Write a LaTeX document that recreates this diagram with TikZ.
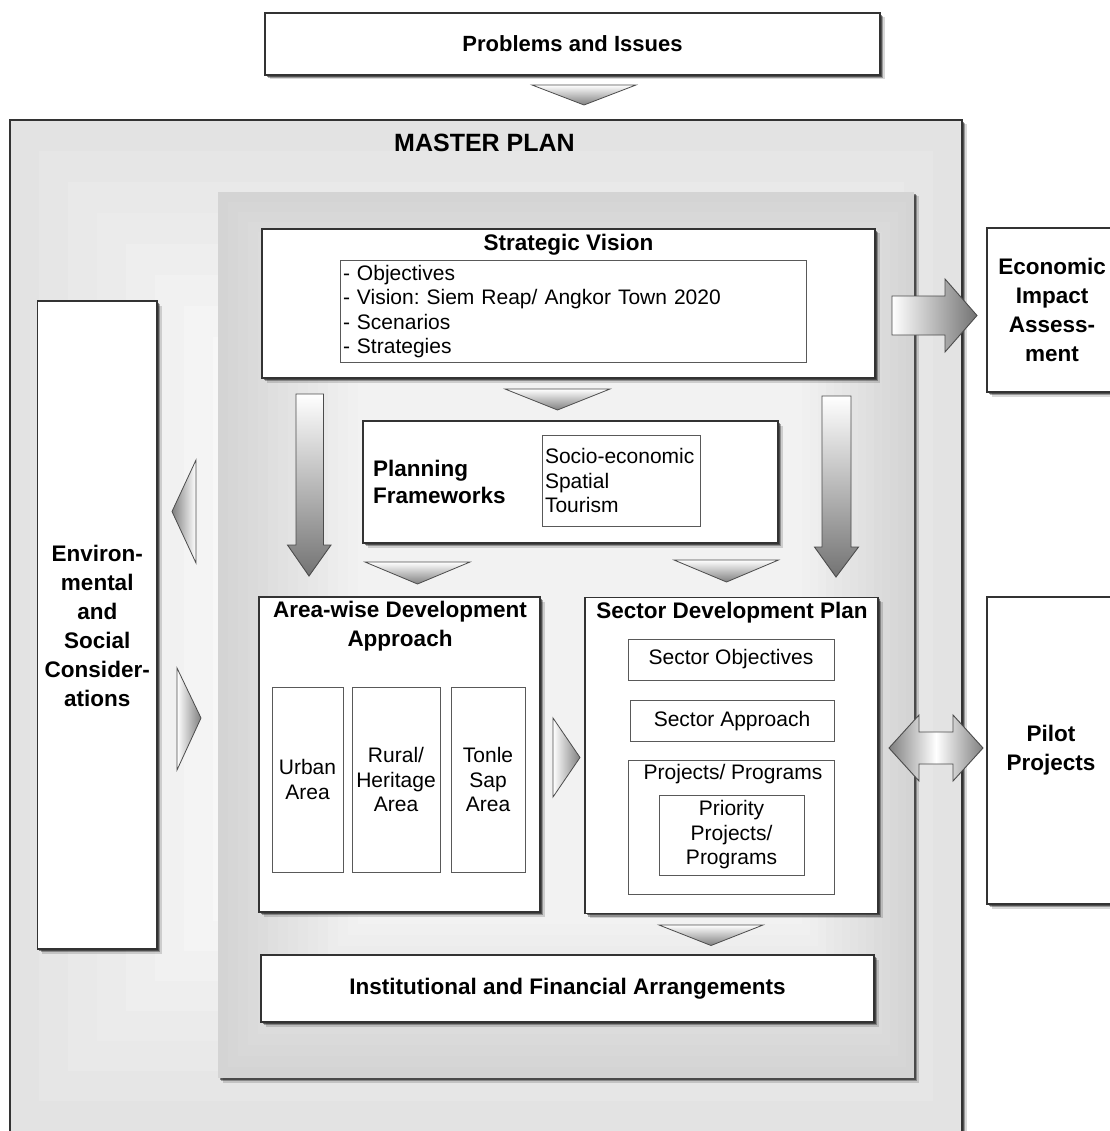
\documentclass[tikz,border=0pt]{standalone}
\usepackage{fontspec}
\setmainfont{Liberation Sans}
\frenchspacing
\usetikzlibrary{shadows}
\tikzset{
  shad/.style={
    drop shadow={shadow xshift=4.5pt, shadow yshift=-4.5pt, fill=black, opacity=0.15},
    drop shadow={shadow xshift=3pt, shadow yshift=-3pt, fill=black, opacity=0.3},
    drop shadow={shadow xshift=1.8pt, shadow yshift=-1.8pt, fill=black, opacity=0.45}},
  mainbox/.style={draw=black!80, line width=1.3pt, fill=white, shad, inner sep=0pt},
  subbox/.style={draw=black!65, line width=1pt, fill=white, inner sep=0pt},
  btxt/.style={font=\fontsize{22.5}{29}\selectfont\bfseries, align=center, inner sep=0pt},
  rtxt/.style={font=\fontsize{21}{24.5}\selectfont},
  tri/.style={draw=black!70, line width=0.8pt},
  blk/.style={draw=black!70, line width=0.9pt},
}
\begin{document}
\begin{tikzpicture}[x=1pt,y=-1pt]
\useasboundingbox (0,0) rectangle (1109,1131);
\fill[white] (0,0) rectangle (1109,1131);

% Problems and Issues
\node[mainbox, minimum width=615, minimum height=62, btxt, font=\fontsize{22}{28}\selectfont\bfseries] (prob) at (572.5,44) {Problems and Issues};

% Master plan frame
\node[mainbox, fill=black!11, minimum width=952, minimum height=1020] (master) at (486,630) {};
\foreach \i in {1,...,7} {
  \pgfmathsetmacro\c{11-\i*1.1}
  \fill[black!\c] (10+\i*29, 120+\i*31) rectangle (962-\i*29, 1131-\i*30);
}
\node[btxt, font=\fontsize{25}{30}\selectfont\bfseries] (mptitle) at (484.5,143) {MASTER PLAN};

% Environmental box
\node[mainbox, minimum width=119.5, minimum height=648] (env) at (97.25,625) {};
\node[btxt] (envtxt) at (97.25,625.5) {Environ-\\mental\\and\\Social\\Consider-\\ations};

% Economic impact and Pilot projects (outside)
\node[mainbox, minimum width=130, minimum height=164] (econ) at (1052,310) {};
\node[btxt] (econtxt) at (1052,310) {Economic\\Impact\\Assess-\\ment};
\node[mainbox, minimum width=130, minimum height=307] (pilot) at (1052,750.5) {};
\node[btxt] (pilottxt) at (1051,750.5) {Pilot\\Projects};

% Inner panel
\node[mainbox, draw=none, fill=black!17, minimum width=696, minimum height=886] (panel) at (566,635) {};
\foreach \i in {1,...,14} {
  \pgfmathsetmacro\c{17-\i*0.85}
  \fill[black!\c] (218+\i*10, 192+\i*10) rectangle (914-\i*8, 1078-\i*11);
}

% Strategic Vision
\node[mainbox, minimum width=613, minimum height=149] (sv) at (568.5,303.5) {};
\node[btxt] (svtitle) at (568.5,245) {Strategic Vision};
\node[subbox, rtxt, minimum height=101, text width=460, inner xsep=3pt, align=left] (svin) at (573,311.5)
  {- Objectives\\- Vision: Siem Reap/ Angkor Town 2020\\- Scenarios\\- Strategies};

% Planning Frameworks
\node[mainbox, minimum width=415, minimum height=122] (pf) at (570.5,482) {};
\node[btxt, anchor=west, align=left, font=\fontsize{22.5}{27.5}\selectfont\bfseries] (pftitle) at (373,482) {Planning\\Frameworks};
\node[subbox, rtxt, minimum height=91, text width=152, inner xsep=3pt, align=left] (pfin) at (621,480.5)
  {Socio-economic\\Spatial\\Tourism};

% Area-wise development approach
\node[mainbox, minimum width=281, minimum height=315] (area) at (399.5,754.5) {};
\node[btxt] (areatitle) at (400,626) {Area-wise Development\\Approach};
\node[subbox, rtxt, inner sep=0pt, align=center, minimum width=71, minimum height=185] (urban) at (307.5,779.5) {Urban\\Area};
\node[subbox, rtxt, inner sep=0pt, align=center, minimum width=88, minimum height=185] (rural) at (396,779.5) {Rural/\\Heritage\\Area};
\node[subbox, rtxt, inner sep=0pt, align=center, minimum width=74, minimum height=185] (tonle) at (488,779.5) {Tonle\\Sap\\Area};

% Sector development plan
\node[mainbox, minimum width=293, minimum height=316] (sector) at (731.5,755.5) {};
\node[btxt] (sectitle) at (732,613) {Sector Development Plan};
\node[subbox, rtxt, inner sep=0pt, minimum width=206, minimum height=41] (sobj) at (731,659.5) {Sector Objectives};
\node[subbox, rtxt, inner sep=0pt, minimum width=204, minimum height=41] (sapp) at (732,721) {Sector Approach};
\node[subbox, minimum width=206, minimum height=134] (proj) at (731,827) {};
\node[rtxt, inner sep=0pt] (projtxt) at (733,774) {Projects/ Programs};
\node[subbox, rtxt, inner sep=0pt, align=center, minimum width=145, minimum height=80] (prio) at (731.5,835) {Priority\\Projects/\\Programs};

% Institutional
\node[mainbox, btxt, minimum width=613, minimum height=67] (inst) at (567.5,988.5) {Institutional and Financial Arrangements};

% Triangles
\shade[tri, top color=white, bottom color=black!50] (532,85) -- (636,85) -- (584,105) -- cycle;
\shade[tri, top color=white, bottom color=black!50] (505,389) -- (610,389) -- (557.5,410) -- cycle;
\shade[tri, top color=white, bottom color=black!50] (365,562) -- (470,562) -- (417.5,584) -- cycle;
\shade[tri, top color=white, bottom color=black!50] (674,560) -- (778.5,560) -- (726.5,582) -- cycle;
\shade[tri, top color=white, bottom color=black!50] (659,925) -- (763,925) -- (711,945.5) -- cycle;
\shade[tri, left color=white, right color=black!50] (553,718) -- (580,757.5) -- (553,797) -- cycle;
\shade[tri, left color=black!50, right color=white] (196,460) -- (172,511.5) -- (196,563) -- cycle;
\shade[tri, left color=white, right color=black!50] (177,668) -- (201,718) -- (177,770) -- cycle;

% Big down arrows
\shade[blk, top color=white, bottom color=black!55]
  (296,394) -- (323.5,394) -- (323.5,545) -- (331,545) -- (309,576) -- (287.5,545) -- (296,545) -- cycle;
\shade[blk, top color=white, bottom color=black!55]
  (822,396) -- (851,396) -- (851,547) -- (858.5,547) -- (836,577) -- (814.5,547) -- (822,547) -- cycle;

% Arrow to economic impact
\shade[blk, left color=white, right color=black!55]
  (892,296) -- (945,296) -- (945,279) -- (977,315.5) -- (945,352) -- (945,335) -- (892,335) -- cycle;

% Double arrow to pilot projects
\shade[blk, left color=black!50, right color=black!50, middle color=white]
  (889,748) -- (919,715) -- (919,732) -- (953,732) -- (953,715) -- (983,748)
  -- (953,781) -- (953,764) -- (919,764) -- (919,781) -- cycle;
\end{tikzpicture}
\end{document}
